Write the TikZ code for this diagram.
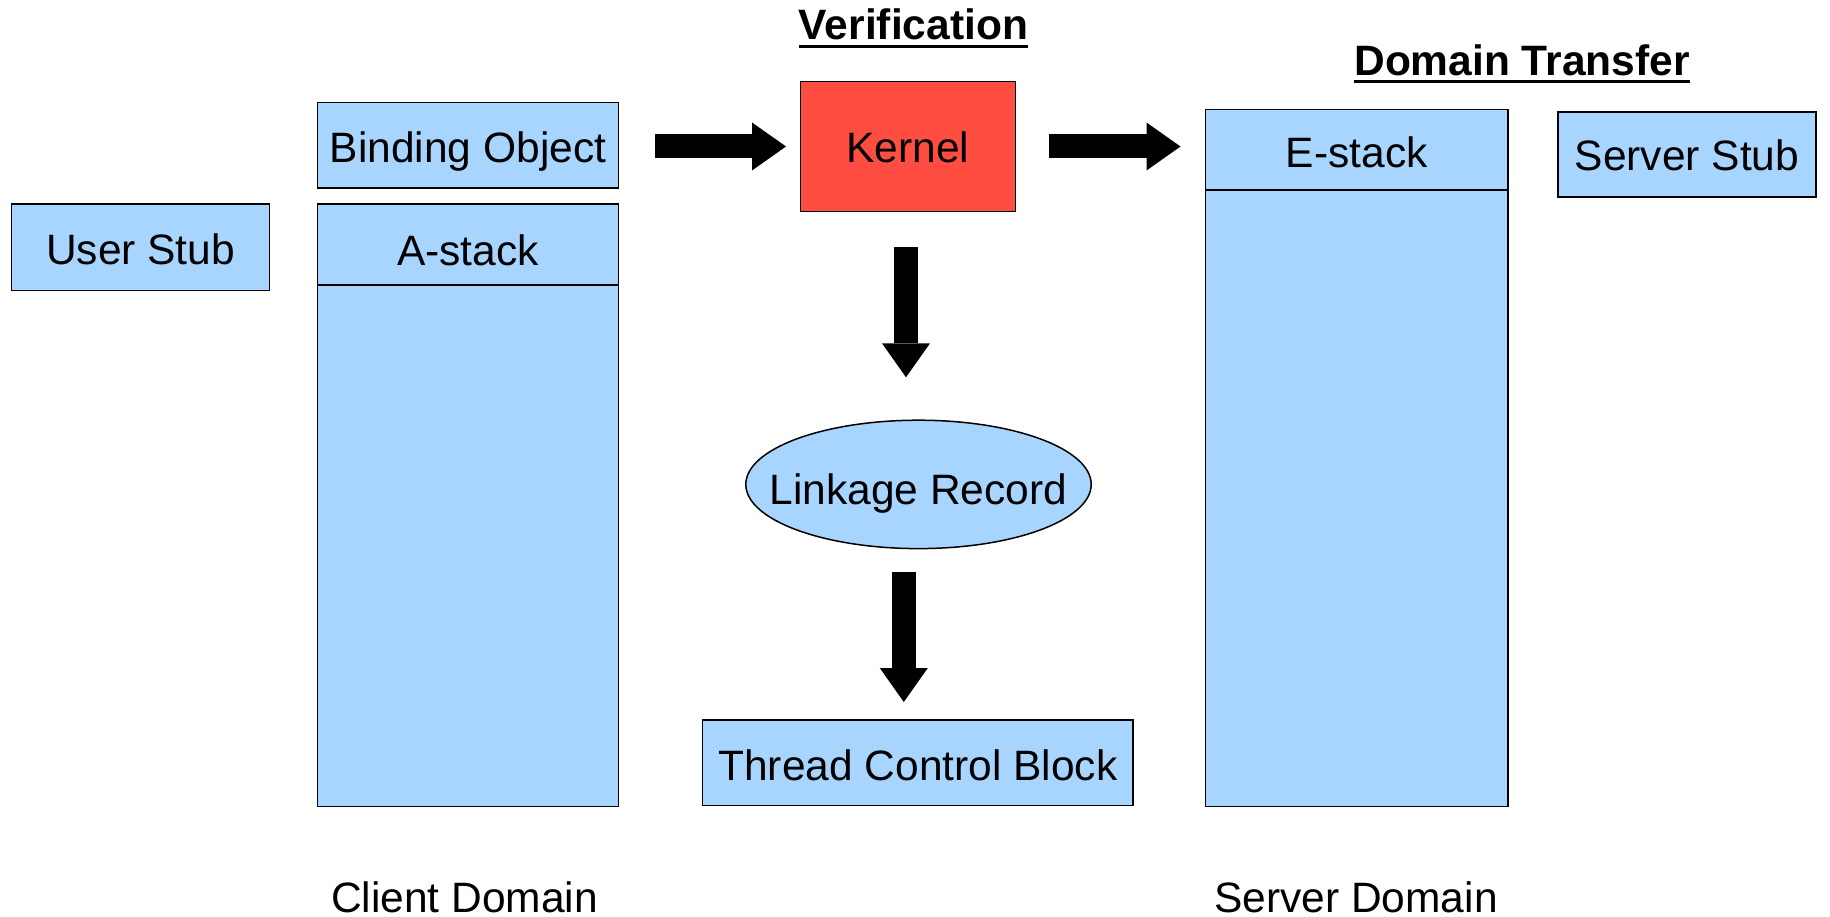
\documentclass[tikz,border=0pt]{standalone}
\usepackage{fontspec}
\setmainfont{Liberation Sans}
\usetikzlibrary{arrows.meta,shapes.geometric}
\definecolor{boxblue}{HTML}{A8D5FF}
\definecolor{kernelred}{HTML}{FF4D42}
\tikzset{
  box/.style={draw=black, line width=1.5pt, fill=boxblue, inner sep=0pt,
    text height=31pt, text depth=0pt,
    font=\fontsize{42.5}{51}\selectfont},
  label/.style={inner sep=0pt, anchor=base, text depth=0pt, font=\fontsize{42.5}{51}\selectfont},
  title/.style={inner sep=0pt, anchor=base, text depth=0pt, font=\fontsize{42.5}{51}\selectfont\bfseries},
  uline/.style={line width=3.5pt},
  bigarrow/.style={line width=24pt, -{Triangle[length=34pt,width=48pt,line width=0pt]}}
}
\begin{document}
\begin{tikzpicture}[x=1pt,y=-1pt]
\useasboundingbox (0,0) rectangle (1830,917);
% boxes
\node[box, text height=35pt, minimum width=258pt, minimum height=86.6pt] (userstub) at (140.6,247.3) {User Stub};
\node[box, text height=34pt, minimum width=301pt, minimum height=85.3pt] (binding) at (468,145.4) {Binding Object};
\node[box, text height=41.6pt, minimum width=301pt, minimum height=80.8pt] (astackhead) at (468,244.4) {A-stack};
\node[box, minimum width=301pt, minimum height=521.7pt] (astack) at (468,545.65) {};
\node[box, text height=33pt, fill=kernelred, minimum width=214.8pt, minimum height=129.6pt] (kernel) at (908,146.5) {Kernel};
\node[box, text height=36pt, minimum width=302.4pt, minimum height=80.5pt] (estackhead) at (1356.8,150) {E-stack};
\node[box, minimum width=302.4pt, minimum height=616.3pt] (estack) at (1356.8,498.35) {};
\node[box, minimum width=258pt, minimum height=85.2pt] (serverstub) at (1687,154.6) {Server Stub};
\node[box, ellipse, text height=39.4pt, inner xsep=-27.4pt, inner ysep=0pt,
  minimum width=345.4pt, minimum height=128.4pt] (linkage) at (918.5,484.4) {Linkage Record};
\node[box, text height=35pt, minimum width=430.6pt, minimum height=85.3pt] (tcb) at (917.9,762.65) {Thread Control Block};
% titles
\node[title] (verif) at (913.5,40) {Verification};
\draw[uline] ([yshift=-6.3pt]verif.base west) -- ([yshift=-6.3pt]verif.base east);
\node[title] (dtrans) at (1522,75.5) {Domain Transfer};
\draw[uline] ([yshift=-6pt]dtrans.base west) -- ([yshift=-6pt]dtrans.base east);
\node[label] (client) at (464.5,912) {Client Domain};
\node[label] (server) at (1356,912) {Server Domain};
% arrows
\coordinate (a1s) at (655,146.5);
\coordinate (a1e) at (786,146.5);
\coordinate (a2s) at (1049,146.5);
\coordinate (a2e) at (1180.5,146.5);
\coordinate (a3s) at (906,247);
\coordinate (a3e) at (906,377.3);
\coordinate (a4s) at (903.8,571.5);
\coordinate (a4e) at (903.8,702);
\draw[bigarrow] (a1s) -- (a1e);
\draw[bigarrow] (a2s) -- (a2e);
\draw[bigarrow] (a3s) -- (a3e);
\draw[bigarrow] (a4s) -- (a4e);
\end{tikzpicture}
\end{document}
